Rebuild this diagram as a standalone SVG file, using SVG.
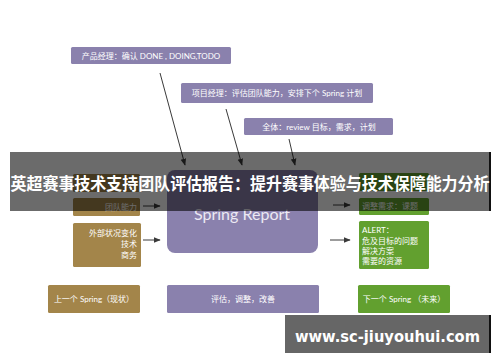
<svg xmlns="http://www.w3.org/2000/svg" width="500" height="362" viewBox="0 0 500 362">
<defs>
<marker id="ah" viewBox="0 0 10 10" refX="9" refY="5" markerWidth="7" markerHeight="7" orient="auto" markerUnits="userSpaceOnUse">
<path d="M0,1 L10,5 L0,9 z" fill="#3a3a3a"/>
</marker>
<style>
.lav{fill:#8a81ad}
.brn{fill:#a3854a}
.grn{fill:#62a02f}
.t{font-family:"Lato","Noto Sans CJK SC",sans-serif;font-size:8px;fill:#ffffff}
.c{text-anchor:middle}
.r{text-anchor:end}
.conn line{stroke:#3a3a3a;stroke-width:1;marker-end:url(#ah)}
</style>
</defs>
<rect width="500" height="362" fill="#ffffff"/>

<g id="pm">
<rect class="lav" x="71" y="47" width="160" height="17" rx="1.5"/>
<text class="t c" x="151" y="59">产品经理：确认 DONE , DOING,TODO</text>
</g>
<g id="proj">
<rect class="lav" x="181" y="83" width="192" height="20" rx="1.5"/>
<text class="t c" x="277" y="96">项目经理：评估团队能力，安排下个 Spring 计划</text>
</g>
<g id="all">
<rect class="lav" x="244" y="118" width="149" height="17" rx="1.5"/>
<text class="t c" x="319" y="130">全体：review 目标，需求，计划</text>
</g>

<g id="report">
<rect class="lav" x="167" y="170" width="151" height="83" rx="8"/>
<text x="242" y="220" text-anchor="middle" font-family="Lato, 'Open Sans', sans-serif" font-size="16" fill="#ece9f3">Spring Report</text>
</g>

<g id="left-top"><rect class="brn" x="73" y="174" width="67" height="18" rx="1.5"/></g>
<g id="team">
<rect class="brn" x="73" y="198" width="67" height="18" rx="1.5"/>
<text class="t r" x="137" y="210">团队能力</text>
</g>
<g id="external">
<rect class="brn" x="73" y="223" width="68" height="44" rx="1.5"/>
<text class="t r" x="137" y="236">外部状况变化</text>
<text class="t r" x="137" y="247">技术</text>
<text class="t r" x="137" y="258">商务</text>
</g>

<g id="right-top"><rect class="grn" x="359" y="173" width="70" height="18" rx="1.5"/></g>
<g id="adjust">
<rect class="grn" x="359" y="198" width="70" height="17" rx="1.5"/>
<text class="t" x="362" y="209">调整需求：课题</text>
</g>
<g id="alert">
<rect class="grn" x="359" y="221" width="70" height="48" rx="1.5"/>
<text class="t" x="362" y="233">ALERT：</text>
<text class="t" x="362" y="244">危及目标的问题</text>
<text class="t" x="362" y="254">解决方案</text>
<text class="t" x="362" y="264">需要的资源</text>
</g>

<g id="prev">
<rect class="brn" x="48" y="285" width="92" height="28" rx="1.5"/>
<text class="t c" x="94" y="302">上一个 Spring（现状）</text>
</g>
<g id="eval">
<rect class="lav" x="167" y="285" width="152" height="28" rx="1.5"/>
<text class="t c" x="243" y="302">评估，调整，改善</text>
</g>
<g id="next">
<rect class="grn" x="358" y="285" width="92" height="28" rx="1.5"/>
<text class="t c" x="404" y="302">下一个 Spring （未来）</text>
</g>

<g id="connectors" class="conn">
<line x1="160" y1="73" x2="185" y2="165"/>
<line x1="226" y1="109" x2="242" y2="165"/>
<line x1="289" y1="139" x2="295" y2="165"/>
<line x1="143" y1="206" x2="160" y2="206"/>
<line x1="143" y1="240" x2="160" y2="240"/>
<line x1="333" y1="205" x2="350" y2="205"/>
<line x1="330" y1="240" x2="350" y2="240"/>
</g>

<g id="title-banner">
<rect x="10" y="152" width="480" height="59" fill="#000000" fill-opacity="0.58"/>
<rect x="489" y="152" width="2" height="59" fill="#111111"/>
<text x="250" y="190" text-anchor="middle" font-family="'Noto Sans CJK SC', sans-serif" font-weight="bold" font-size="17" fill="#ffffff" textLength="479" lengthAdjust="spacingAndGlyphs">英超赛事技术支持团队评估报告：提升赛事体验与技术保障能力分析</text>
</g>
<g id="url-banner">
<rect x="285" y="315" width="205" height="38" fill="#666666"/>
<rect x="489" y="315" width="2" height="38" fill="#111111"/>
<text x="295" y="342" font-family="'DejaVu Sans', sans-serif" font-weight="bold" font-size="16" fill="#ffffff" textLength="185" lengthAdjust="spacingAndGlyphs">www.sc-jiuyouhui.com</text>
</g>
</svg>
